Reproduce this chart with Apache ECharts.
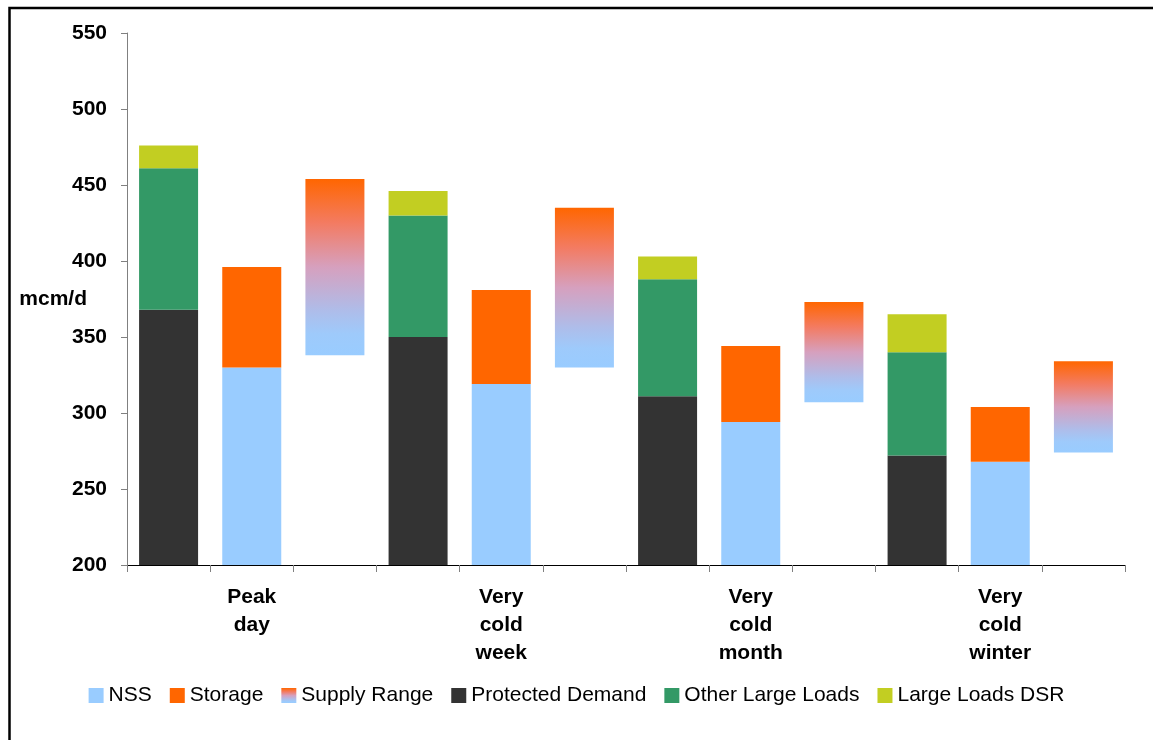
<!DOCTYPE html>
<html>
<head>
<meta charset="utf-8">
<title>Supply and demand scenarios</title>
<script src="https://cdn.jsdelivr.net/npm/echarts@6/dist/echarts.min.js"></script>
<style>
  html, body { margin: 0; padding: 0; background: #ffffff; }
  #chart { width: 1153px; height: 740px; }
</style>
</head>
<body>
<div id="chart"></div>
<script>
// Scenario groups (each group has three columns: demand, NSS + storage, supply range)
const scenarios = ['Peak\nday', 'Very\ncold\nweek', 'Very\ncold\nmonth', 'Very\ncold\nwinter'];

// Demand column (mcm/d)
const protectedDemand = [368, 350, 311, 272];
const otherLargeLoads = [93, 80, 77, 68];
const largeLoadsDSR   = [15, 16, 15, 25];

// Supply column (mcm/d)
const nss     = [330, 319, 294, 268];
const storage = [66, 62, 50, 36];

// Supply range column: low and high ends (mcm/d)
const supplyLow  = [338, 330, 307, 274];
const supplyHigh = [454, 435, 373, 334];

const yTicks = { min: 200, max: 550, interval: 50 };

// 12 slots: column 0 = demand, 1 = NSS/storage, 2 = supply range in every group
function slot(values, col) {
  const out = [];
  values.forEach(v => { for (let c = 0; c < 3; c++) out.push(c === col ? v : null); });
  return out;
}
const categories = [];
scenarios.forEach(s => { categories.push(''); categories.push(s); categories.push(''); });

const rangeGradient = new echarts.graphic.LinearGradient(0, 0, 0, 1, [
  { offset: 0.00, color: '#FF6600' },
  { offset: 0.25, color: '#F37B62' },
  { offset: 0.50, color: '#D6A0BE' },
  { offset: 0.75, color: '#AEBDEA' },
  { offset: 0.88, color: '#9ECAFB' },
  { offset: 1.00, color: '#99CCFF' }
]);

const FONT = '"Liberation Sans", Arial, sans-serif';
const BAR_W = 59;

const chart = echarts.init(document.getElementById('chart'), null, { renderer: 'canvas' });
chart.setOption({
  animation: false,
  backgroundColor: '#ffffff',
  graphic: [{
    type: 'rect',
    shape: { x: 9.5, y: 8, width: 1200, height: 800 },
    style: { fill: 'none', stroke: '#000000', lineWidth: 2.5 },
    silent: true,
    z: 100
  }],
  grid: { left: 127, right: 28, top: 33, bottom: 175 },
  legend: {
    data: ['NSS', 'Storage', 'Supply Range', 'Protected Demand', 'Other Large Loads', 'Large Loads DSR'],
    top: 680,
    left: 'center',
    itemWidth: 15,
    itemHeight: 15,
    itemGap: 18,
    icon: 'rect',
    textStyle: { fontFamily: FONT, fontSize: 21, color: '#000000' },
    selectedMode: false
  },
  xAxis: {
    type: 'category',
    data: categories,
    axisLine: { lineStyle: { color: '#000000', width: 1 } },
    axisTick: { show: true, interval: 0, length: 7, lineStyle: { color: '#808080' } },
    axisLabel: {
      interval: 0,
      margin: 18,
      fontFamily: FONT,
      fontSize: 21,
      fontWeight: 'bold',
      color: '#000000',
      lineHeight: 28
    }
  },
  yAxis: {
    type: 'value',
    min: yTicks.min,
    max: yTicks.max,
    interval: yTicks.interval,
    name: 'mcm/d',
    nameLocation: 'middle',
    nameRotate: 0,
    nameGap: 40,
    nameMoveOverlap: false,
    nameTextStyle: { fontFamily: FONT, fontSize: 21, fontWeight: 'bold', color: '#000000', padding: [0, 0, 6, 0] },
    axisLine: { show: true, lineStyle: { color: '#808080' } },
    axisTick: { show: true, length: 6, lineStyle: { color: '#808080' } },
    splitLine: { show: false },
    axisLabel: { margin: 20, fontFamily: FONT, fontSize: 21, fontWeight: 'bold', color: '#000000' }
  },
  series: [
    { name: 'Protected Demand', type: 'bar', stack: 'all', barWidth: BAR_W, data: slot(protectedDemand, 0), itemStyle: { color: '#333333' } },
    { name: 'Other Large Loads', type: 'bar', stack: 'all', barWidth: BAR_W, data: slot(otherLargeLoads, 0), itemStyle: { color: '#339966' } },
    { name: 'Large Loads DSR', type: 'bar', stack: 'all', barWidth: BAR_W, data: slot(largeLoadsDSR, 0), itemStyle: { color: '#C2CE22' } },
    { name: 'NSS', type: 'bar', stack: 'all', barWidth: BAR_W, data: slot(nss, 1), itemStyle: { color: '#99CCFF' } },
    { name: 'Storage', type: 'bar', stack: 'all', barWidth: BAR_W, data: slot(storage, 1), itemStyle: { color: '#FF6600' } },
    { name: 'rangeBase', type: 'bar', stack: 'all', barWidth: BAR_W, silent: true, data: slot(supplyLow, 2), itemStyle: { color: 'rgba(0,0,0,0)' }, tooltip: { show: false } },
    { name: 'Supply Range', type: 'bar', stack: 'all', barWidth: BAR_W, data: slot(supplyHigh.map((h, i) => h - supplyLow[i]), 2), itemStyle: { color: rangeGradient } }
  ]
});
</script>
</body>
</html>
